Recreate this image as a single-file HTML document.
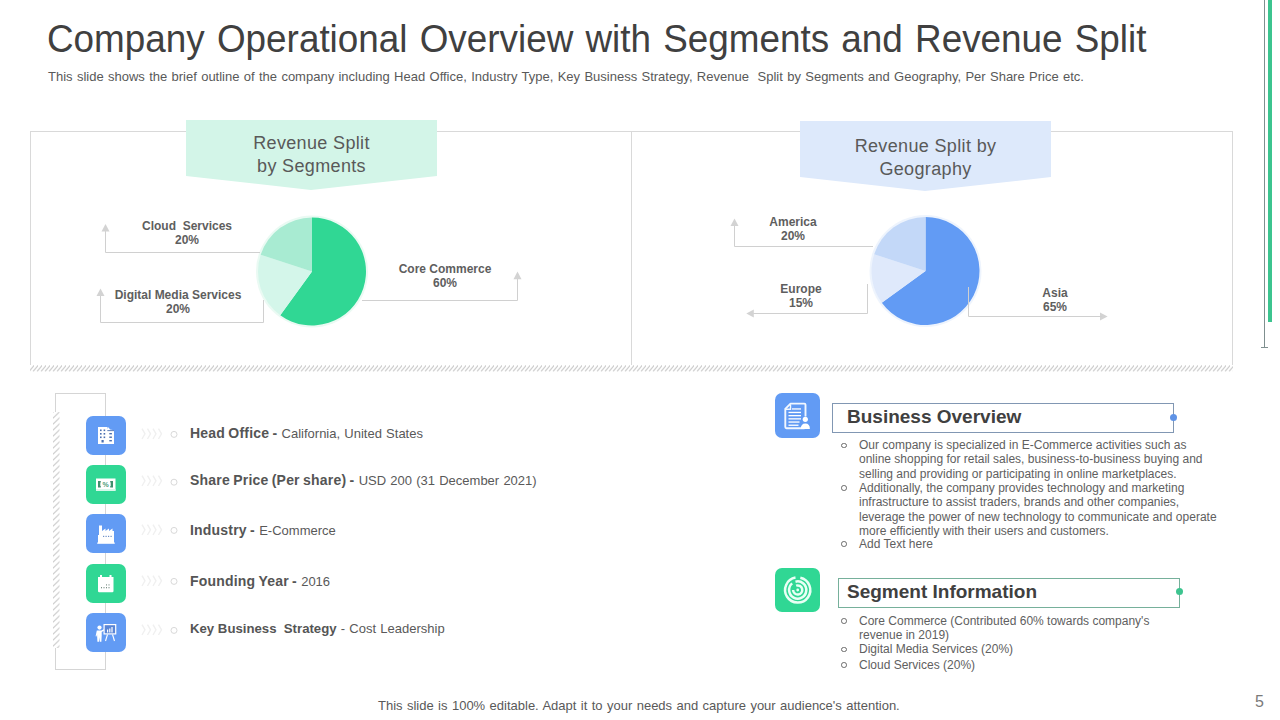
<!DOCTYPE html>
<html><head><meta charset="utf-8">
<style>
*{margin:0;padding:0;box-sizing:border-box}
html,body{width:1280px;height:720px;overflow:hidden;background:#fff}
body{position:relative;font-family:"Liberation Sans",sans-serif;color:#595959}
.a{position:absolute;white-space:nowrap}
#title{left:47px;top:16px;font-size:38px;color:#404040;line-height:46px;transform:scaleX(0.97);transform-origin:0 0;word-spacing:2px}
#sub{left:48px;top:68.5px;font-size:13px;color:#595959;line-height:16px;word-spacing:0.72px}
.panel{position:absolute;border:1px solid #d9d9d9}
.hatch{position:absolute;background:repeating-linear-gradient(45deg,#d0d0d0 0 1.2px,#fff 1.2px 4px)}
.lbl{position:absolute;font-size:12px;font-weight:bold;color:#5e5e5e;text-align:center;line-height:14.4px;white-space:nowrap}
.ibox{position:absolute;left:86px;width:40px;height:39px;border-radius:7px}
.blue{background:#629bf4}
.green{background:#30d794}
.row{position:absolute;left:190px;font-size:13px;word-spacing:0.6px;color:#595959;white-space:nowrap;line-height:16px}
.row b{color:#555;font-size:14px;letter-spacing:0.2px;word-spacing:-0.8px}
.bul{position:absolute;left:843px;font-size:12px;color:#606060;line-height:14.3px}
.bul div{position:relative;padding-left:16px;white-space:nowrap}
.bul div:before{content:"";position:absolute;left:-2px;top:4.4px;width:3.6px;height:3.6px;border:1.1px solid #6a6a6a;border-radius:50%}
</style></head><body>
<div id="title" class="a">Company Operational Overview with Segments and Revenue Split</div>
<div id="sub" class="a">This slide shows the brief outline of the company including Head Office, Industry Type, Key Business Strategy, Revenue&nbsp; Split by Segments and Geography, Per Share Price etc.</div>

<!-- right decoration -->
<div class="a" style="left:1264px;top:0;width:1px;height:348px;background:#7f8f8f"></div>
<div class="a" style="left:1261px;top:347px;width:7px;height:1px;background:#7f8f8f"></div>
<div class="a" style="left:1268px;top:0;width:4px;height:322px;background:#3cc48f"></div>

<!-- panels -->
<div class="panel" style="left:30px;top:131px;width:1203px;height:234px;border-bottom:none"></div>
<div class="a" style="left:631px;top:131px;width:1px;height:234px;background:#d9d9d9"></div>
<svg class="a" style="left:30px;top:365px" width="1203" height="6.5">
 <defs><pattern id="hp" patternUnits="userSpaceOnUse" width="4" height="6.5"><path d="M-1,6.5 L4.5,0 M3,6.5 L8.5,0" stroke="#c9c9c9" stroke-width="1.1"/></pattern></defs>
 <rect width="1203" height="6.5" fill="url(#hp)"/>
</svg>

<svg class="a" style="left:0;top:0" width="1280" height="400">
  <!-- banners -->
  <polygon points="186,120 437,120 437,176 311,190 186,176" fill="#d3f5e8"/>
  <polygon points="800,121 1051,121 1051,177 925,191 800,177" fill="#dde9fb"/>
  <!-- left pie -->
  <g>
   <circle cx="312" cy="271.5" r="56" fill="#eafaf3"/>
   <path d="M312,271.5 L312,217.5 A54,54 0 1 1 280.26,315.19 Z" fill="#30d794"/>
   <path d="M312,271.5 L280.26,315.19 A54,54 0 0 1 260.64,254.81 Z" fill="#d4f6ea"/>
   <path d="M312,271.5 L260.64,254.81 A54,54 0 0 1 312,217.5 Z" fill="#a8ebd2"/>
  </g>
  <g stroke="#d0d0d0" stroke-width="1" fill="none">
   <polyline points="260,252.5 105.5,252.5 105.5,230"/>
   <polyline points="263.5,300 263.5,322.5 100.5,322.5 100.5,294"/>
   <polyline points="362,300.5 517.5,300.5 517.5,278"/>
   <polyline points="873,246.5 734.5,246.5 734.5,224"/>
   <polyline points="867.5,284 867.5,313.5 752,313.5"/>
  </g>
  <g fill="#d3d3d3">
   <polygon points="101.5,231.6 105.5,224 109.5,231.6"/>
   <polygon points="96.5,296 100.5,288.5 104.5,296"/>
   <polygon points="513.5,279.2 517.5,271.6 521.5,279.2"/>
   <polygon points="730.5,226 734.5,218.5 738.5,226"/>
   <polygon points="753.8,309.5 746.3,313.5 753.8,317.5"/>
   <polygon points="1100,312.5 1107.6,316.5 1100,320.5"/>
  </g>
  <!-- right pie -->
  <g>
   <circle cx="925.5" cy="271" r="56" fill="#eef4fd"/>
   <path d="M925.5,271 L925.5,217 A54,54 0 1 1 881.81,302.74 Z" fill="#629bf4"/>
   <path d="M925.5,271 L881.81,302.74 A54,54 0 0 1 874.14,254.31 Z" fill="#dfe9fb"/>
   <path d="M925.5,271 L874.14,254.31 A54,54 0 0 1 925.5,217 Z" fill="#c3d8f8"/>
  </g>
  <polyline points="968.5,287 968.5,316.5 1102,316.5" stroke="#d0d0d0" fill="none"/>
</svg>

<div class="a" style="left:186px;top:131.8px;width:251px;text-align:center;font-size:18px;line-height:23px;letter-spacing:0.35px;color:#595959">Revenue Split<br>by Segments</div>
<div class="a" style="left:800px;top:134.8px;width:251px;text-align:center;font-size:18px;line-height:23px;letter-spacing:0.35px;color:#595959">Revenue Split by<br>Geography</div>

<div class="lbl" style="left:127px;top:218.8px;width:120px">Cloud&nbsp; Services<br>20%</div>
<div class="lbl" style="left:98px;top:287.8px;width:160px">Digital Media Services<br>20%</div>
<div class="lbl" style="left:385px;top:261.8px;width:120px">Core Commerce<br>60%</div>
<div class="lbl" style="left:753px;top:214.8px;width:80px">America<br>20%</div>
<div class="lbl" style="left:761px;top:281.8px;width:80px">Europe<br>15%</div>
<div class="lbl" style="left:1015px;top:285.8px;width:80px">Asia<br>65%</div>

<!-- left list -->
<div class="a" style="left:55px;top:393px;width:51px;height:277px;border:1px solid #d5d5d5"></div>
<svg class="a" style="left:53px;top:412px" width="6.5" height="236">
 <defs><pattern id="vp" patternUnits="userSpaceOnUse" width="6.5" height="6"><path d="M-0.5,6.5 L7,-0.5 M-0.5,0.5 L0.5,-0.5 M6,6.5 L7,5.5" stroke="#cfcfcf" stroke-width="1.3"/></pattern></defs>
 <rect width="6.5" height="236" fill="#fff"/><rect width="6.5" height="236" fill="url(#vp)"/>
</svg>
<div class="ibox blue" style="top:416px"></div>
<div class="ibox green" style="top:465px"></div>
<div class="ibox blue" style="top:514px"></div>
<div class="ibox green" style="top:564px"></div>
<div class="ibox blue" style="top:613px"></div>
<svg class="a" style="left:0;top:380px" width="200" height="300" viewBox="0 380 200 300">
 <!-- vertical connector line -->
 <g fill="#fff">
  <!-- building -->
  <rect x="98" y="427" width="9.5" height="17"/>
  <polygon points="107,444 107,429 108.5,427.3 110,429.6 114,430.3 114,444"/>
 </g>
 <g fill="#4a6fb0">
  <rect x="100" y="429.5" width="1.6" height="1.6"/><rect x="103.6" y="429.5" width="1.6" height="1.6"/>
  <rect x="100" y="433" width="1.6" height="1.6"/><rect x="103.6" y="433" width="1.6" height="1.6"/>
  <rect x="100" y="436.5" width="1.6" height="1.6"/><rect x="103.6" y="436.5" width="1.6" height="1.6"/>
  <rect x="101.5" y="440" width="2.2" height="2.5"/>
  <rect x="107.3" y="430.2" width="6.7" height="0.9"/><rect x="109.3" y="433" width="2.6" height="1.4"/><rect x="109.3" y="436.5" width="2.6" height="1.4"/><rect x="109.3" y="440" width="2.6" height="1.4"/>
 </g>
 <!-- money -->
 <rect x="96" y="478.5" width="19.5" height="12.3" fill="#fff"/>
 <rect x="96" y="489" width="19.5" height="1.8" fill="#d8f7ea"/>
 <g fill="#3f8f6d">
  <rect x="98" y="481" width="2.3" height="6.5"/><rect x="110.7" y="481" width="2.3" height="6.5"/>
  <rect x="100" y="481.3" width="1" height="1"/><rect x="100" y="486.3" width="1" height="1"/>
  <rect x="110" y="481.3" width="1" height="1"/><rect x="110" y="486.3" width="1" height="1"/>
 </g>
 <text x="105.5" y="487.3" font-size="7" font-weight="bold" text-anchor="middle" fill="#4c9a78" font-family="Liberation Sans">%</text>
 <!-- factory -->
 <polygon fill="#fff" points="98,543.5 98,535 99,535 99,525.5 102,525.5 102,531 105.5,528.5 105.5,531 109,528.5 109,531 112.5,528.5 112.5,531 114,531 114,543.5"/>
 <g fill="#6d8fc8"><rect x="103" y="535.8" width="1.2" height="1.2"/><rect x="105.5" y="535.8" width="1.2" height="1.2"/><rect x="108" y="535.8" width="1.2" height="1.2"/><rect x="110.5" y="535.8" width="1.2" height="1.2"/></g>
 <rect x="97" y="542.6" width="18" height="1" fill="#fff"/>
 <!-- calendar -->
 <path fill="#fff" d="M98,577 h15.5 v14 q0,1.2 -1.2,1.2 h-13.1 q-1.2,0 -1.2,-1.2 z"/>
 <rect x="100" y="575" width="2" height="3" fill="#fff"/><rect x="109.5" y="575" width="2" height="3" fill="#fff"/>
 <g fill="#7a8f86"><rect x="101" y="587" width="1" height="1.3"/><rect x="103.5" y="587" width="1" height="1.3"/><rect x="106" y="587" width="1" height="1.3"/><rect x="108.5" y="587" width="1" height="1.3"/><rect x="106" y="584.3" width="1" height="1.2"/><rect x="108.5" y="584.3" width="1" height="1.2"/></g>
 <!-- presentation -->
 <g fill="#fff">
  <circle cx="99.5" cy="627.6" r="2.1"/>
  <path d="M96.8,630.5 h4.4 l3.2,-1.4 l0.5,1 l-3.2,1.9 v3.5 l-0.3,6.3 h-1.6 l-0.4,-4.5 l-0.4,4.5 h-1.6 l-0.3,-6.3 v-1.2 l-0.6,2.2 l-0.9,-0.3 z"/>
  <rect x="103.5" y="624" width="12.8" height="10.5"/>
 </g>
 <rect x="104.7" y="625.2" width="10.4" height="8.1" fill="#5a86d6"/>
 <g fill="#fff"><rect x="107" y="629.5" width="1.2" height="3"/><rect x="109.2" y="628.5" width="1.2" height="4"/><rect x="111.4" y="627" width="1.2" height="5.5"/></g>
 <g stroke="#fff" stroke-width="1.1"><line x1="107.5" y1="634.5" x2="105.5" y2="641"/><line x1="112.5" y1="634.5" x2="114.5" y2="641"/></g>
 <!-- chevrons and circles -->
 <g fill="none" stroke="#f0f0f0" stroke-width="1.4">
  <path d="M142,428.6 l3,5.2 -3,5.2 M147.5,428.6 l3,5.2 -3,5.2 M153,428.6 l3,5.2 -3,5.2 M158.5,428.6 l3,5.2 -3,5.2"/>
  <path d="M142,475.6 l3,5.2 -3,5.2 M147.5,475.6 l3,5.2 -3,5.2 M153,475.6 l3,5.2 -3,5.2 M158.5,475.6 l3,5.2 -3,5.2"/>
  <path d="M142,524.6 l3,5.2 -3,5.2 M147.5,524.6 l3,5.2 -3,5.2 M153,524.6 l3,5.2 -3,5.2 M158.5,524.6 l3,5.2 -3,5.2"/>
  <path d="M142,575.6 l3,5.2 -3,5.2 M147.5,575.6 l3,5.2 -3,5.2 M153,575.6 l3,5.2 -3,5.2 M158.5,575.6 l3,5.2 -3,5.2"/>
  <path d="M142,624.6 l3,5.2 -3,5.2 M147.5,624.6 l3,5.2 -3,5.2 M153,624.6 l3,5.2 -3,5.2 M158.5,624.6 l3,5.2 -3,5.2"/>
 </g>
 <g fill="none" stroke="#d9d9d9" stroke-width="1">
  <circle cx="174" cy="434.4" r="3"/><circle cx="174" cy="482.2" r="3"/><circle cx="174" cy="530.4" r="3"/><circle cx="174" cy="581.4" r="3"/><circle cx="174" cy="630.4" r="3"/>
 </g>
</svg>

<div class="row" id="r1" style="top:425px"><b>Head Office -</b> California, United States</div>
<div class="row" id="r2" style="top:472px"><b>Share Price (Per share) -</b> USD 200 (31 December 2021)</div>
<div class="row" id="r3" style="top:522px"><b>Industry -</b> E-Commerce</div>
<div class="row" id="r4" style="top:573px"><b>Founding Year -</b> 2016</div>
<div class="row" id="r5" style="top:621px"><b style="font-size:13.2px;letter-spacing:0;word-spacing:0">Key Business&nbsp; Strategy</b> - Cost Leadership</div>

<!-- right boxes -->
<div class="a" style="left:775px;top:393px;width:45px;height:45px;border-radius:7px;background:#629bf4"></div>
<svg class="a" style="left:775px;top:393px" width="45" height="45" viewBox="775 393 45 45">
 <path d="M790.5,403.6 h13.8 q1.2,0 1.2,1.2 v11.8 M805.5,426.5 v0.6 q0,1.2 -1.2,1.2 h-17.8 q-1.2,0 -1.2,-1.2 v-18.3 l5.5,-5.5" fill="none" stroke="#f2f8ff" stroke-width="1.9"/>
 <path d="M785.8,409.3 h4.7 v-4.8" fill="none" stroke="#f2f8ff" stroke-width="1.4"/>
 <g fill="#fff"><rect x="792" y="408.3" width="9" height="1.3"/><rect x="788.5" y="411.8" width="12.5" height="1.3"/><rect x="788.5" y="415" width="12.5" height="1.3"/><rect x="788.5" y="418.2" width="12.5" height="1.3"/><rect x="788.5" y="421.4" width="11" height="1.3"/><rect x="788.5" y="424.6" width="10" height="1.3"/>
 <circle cx="805.3" cy="419.3" r="2.6"/><path d="M800.8,429 q0,-5.5 4.5,-5.5 q4.6,0 4.6,5.5 z"/></g>
</svg>
<div class="a" style="left:832px;top:403px;width:342px;height:30px;border:1px solid #8197b3"></div>
<div class="a" style="left:1169.5px;top:414px;width:7.4px;height:7.4px;border-radius:50%;background:#5f93e6"></div>
<div class="a" style="left:847px;top:405px;font-size:19px;font-weight:bold;color:#404040;line-height:24px">Business Overview</div>
<div class="bul" style="top:438.2px">
<div>Our company is specialized in E-Commerce activities such as<br>online shopping for retail sales, business-to-business buying and<br>selling and providing or participating in online marketplaces.</div>
<div>Additionally, the company provides technology and marketing<br>infrastructure to assist traders, brands and other companies,<br>leverage the power of new technology to  communicate and operate<br>more efficiently with their users and customers.</div>
<div style="margin-top:-1.3px">Add Text here</div>
</div>

<div class="a" style="left:775px;top:568px;width:45px;height:44px;border-radius:7px;background:#30d794"></div>
<svg class="a" style="left:775px;top:568px" width="45" height="44" viewBox="775 568 45 44">
 <g fill="none" stroke="#e9fff5" stroke-width="2.5">
  <path d="M800.32,577.68 A12.6,12.6 0 1 1 795.51,577.59"/>
  <path d="M795.47,581.69 A8.6,8.6 0 1 1 792.17,583.41"/>
  <path d="M796.13,585.68 A4.6,4.6 0 1 1 793.1,590"/>
 </g>
 <circle cx="797.7" cy="590" r="1.4" fill="#e9fff5"/>
</svg>
<div class="a" style="left:838px;top:578px;width:342px;height:30px;border:1px solid #76b09b"></div>
<div class="a" style="left:1176px;top:588.3px;width:7.2px;height:7.2px;border-radius:50%;background:#3dc48f"></div>
<div class="a" style="left:847px;top:580px;font-size:19px;font-weight:bold;color:#404040;line-height:24px">Segment Information</div>
<div class="bul" style="top:613.7px">
<div>Core Commerce (Contributed 60% towards company's<br>revenue in 2019)</div>
<div>Digital Media Services (20%)</div>
<div style="margin-top:1px">Cloud Services (20%)</div>
</div>

<div class="a" id="foot" style="left:378px;top:697.5px;font-size:13px;color:#595959;line-height:16px;word-spacing:0.8px">This slide is 100% editable. Adapt it to your needs and capture your audience's attention.</div>
<div class="a" style="left:1255px;top:692.5px;font-size:16px;color:#7a7a7a;line-height:18px">5</div>
</body></html>
